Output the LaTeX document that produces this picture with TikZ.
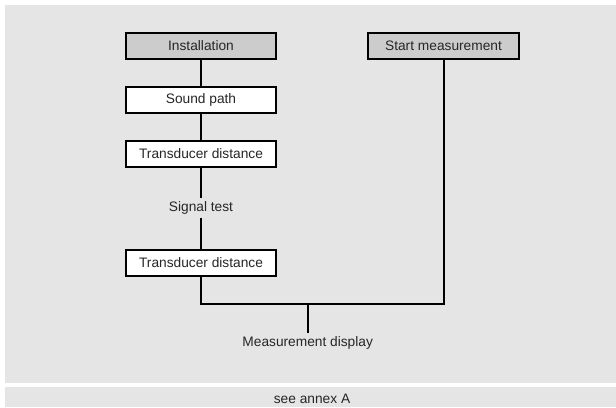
\documentclass[tikz,border=0pt]{standalone}
\usepackage{fontspec}
\setmainfont{Liberation Sans}
\definecolor{flowInk}{HTML}{000000}
\definecolor{flowText}{HTML}{262626}
\definecolor{flowPanel}{HTML}{E5E5E5}
\definecolor{flowHead}{HTML}{CCCCCC}
\tikzset{
  every picture/.style={font=\fontsize{10.3}{12}\selectfont, text=flowText},
  flow box/.style={draw=flowInk, line width=1.5pt, fill=white,
    minimum width=113pt, minimum height=19.5pt, inner sep=0pt},
  flow head/.style={flow box, fill=flowHead},
  flow label/.style={inner sep=2.5pt},
  flow line/.style={draw=flowInk, line width=1.5pt}
}
\begin{document}
\begin{tikzpicture}[x=0.75pt,y=-0.75pt]
  \useasboundingbox (0,0) rectangle (616,407);
  \fill[flowPanel] (5,5) rectangle (616,383);
  \fill[flowPanel] (5,387) rectangle (616,407);
  \node[flow head] (install) at (201,45.5) {Installation};
  \node[flow head] (start) at (443.5,45.5) {Start measurement};
  \node[flow box] (sound) at (201,100) {Sound path};
  \node[flow box] (tdist1) at (201,154) {Transducer distance};
  \node[flow label] (signal) at (201,207.5) {Signal test};
  \node[flow box] (tdist2) at (201,262.5) {Transducer distance};
  \coordinate (split) at (307.7,304);
  \node[flow label] (display) at (307.7,343) {Measurement display};
  \node[flow label] (annex) at (312,398.5) {see annex A};
  \draw[flow line] (install) -- (sound);
  \draw[flow line] (sound) -- (tdist1);
  \draw[flow line] (tdist1) -- (signal);
  \draw[flow line] (signal) -- (tdist2);
  \draw[flow line] (tdist2) |- (split) -| (start);
  \draw[flow line] (split) -- (display);
\end{tikzpicture}
\end{document}
